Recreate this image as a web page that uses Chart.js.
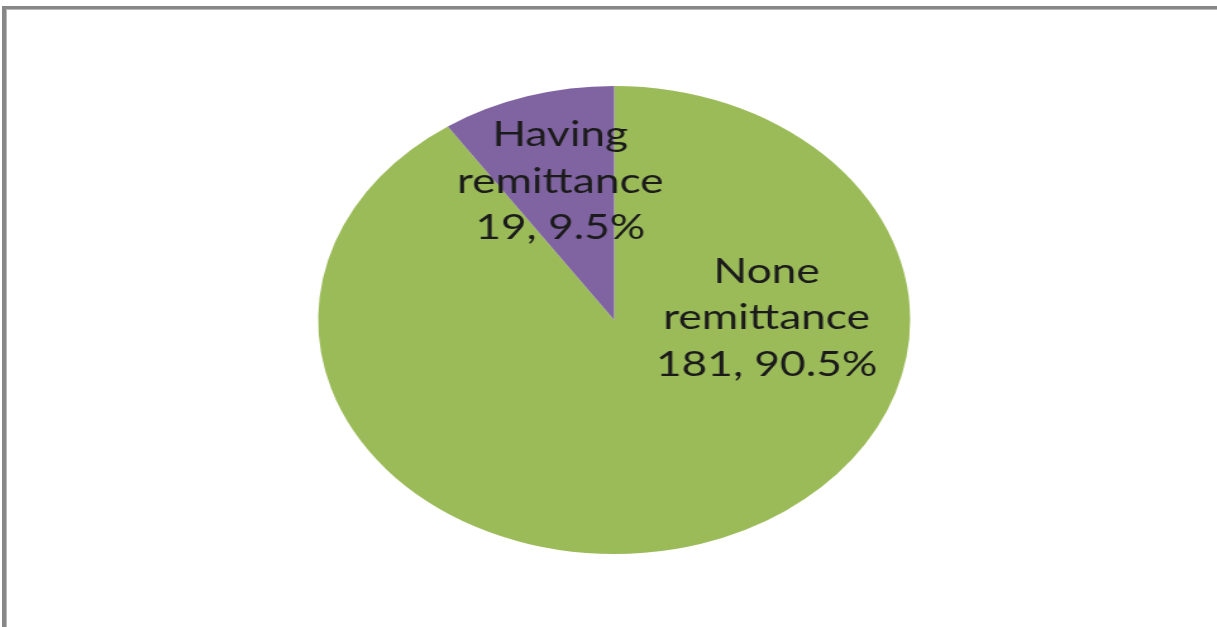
<!DOCTYPE html>
<html>
<head>
<meta charset="utf-8">
<script src="https://cdn.jsdelivr.net/npm/chart.js@4"></script>
<style>
  html, body { margin: 0; padding: 0; background: #ffffff; }
  body { width: 1217px; height: 627px; overflow: hidden; position: relative; }
  #frame {
    position: absolute; left: 2px; top: 6px; right: 0; bottom: 0;
    border-left: 4px solid #878787; border-top: 3px solid #878787;
  }
  #frameInner {
    position: absolute; left: 0; top: 0; right: 0; bottom: 0;
    border-left: 1px solid #b8b8b8; border-top: 1px solid #b8b8b8;
  }
  #stage {
    position: absolute; left: 0; top: 0; width: 962px; height: 627px;
    transform: scaleX(1.265); transform-origin: 0 0;
  }
  canvas { display: block; }
</style>
</head>
<body>
<div id="frame"><div id="frameInner"></div></div>
<div id="stage"><canvas id="chart" width="962" height="627" style="width:962px;height:627px"></canvas></div>
<script>
// Remittance status of households
const categories = ['None remittance', 'Having remittance'];
const counts = [181, 19];
const percents = ['90.5%', '9.5%'];
const colors = ['#9bbb59', '#8064a2'];

// where each label sits: fraction along its slice's sweep, and fraction of the radius
const labelSweep = [0.273, 0.5];
const labelRadius = [0.515, 0.62];

function labelLines(i) {
  const words = categories[i].split(' ');
  return [words[0], words.slice(1).join(' '), counts[i] + ', ' + percents[i]];
}

const sliceLabels = {
  id: 'sliceLabels',
  afterDatasetsDraw(chart) {
    const ctx = chart.ctx;
    const meta = chart.getDatasetMeta(0);
    ctx.save();
    ctx.fillStyle = '#1b1b1b';
    ctx.font = '35px Lato, "Open Sans", sans-serif';
    ctx.textAlign = 'center';
    ctx.textBaseline = 'middle';
    const lineH = 46.5;
    meta.data.forEach((arc, i) => {
      const p = arc.getProps(['x', 'y', 'startAngle', 'endAngle', 'outerRadius'], true);
      const a = p.startAngle + labelSweep[i] * (p.endAngle - p.startAngle);
      const r = p.outerRadius * labelRadius[i];
      const cx = p.x + Math.cos(a) * r;
      const cy = p.y + Math.sin(a) * r;
      const lines = labelLines(i);
      lines.forEach((t, k) => {
        ctx.fillText(t, cx, cy + (k - (lines.length - 1) / 2) * lineH);
      });
    });
    ctx.restore();
  }
};

new Chart(document.getElementById('chart'), {
  type: 'pie',
  data: {
    labels: categories,
    datasets: [{
      data: counts,
      backgroundColor: colors,
      borderWidth: 0
    }]
  },
  options: {
    responsive: false,
    animation: false,
    layout: { padding: { top: 86, bottom: 73, left: 20, right: 11 } },
    plugins: {
      legend: { display: false },
      tooltip: { enabled: false }
    }
  },
  plugins: [sliceLabels]
});
</script>
</body>
</html>
